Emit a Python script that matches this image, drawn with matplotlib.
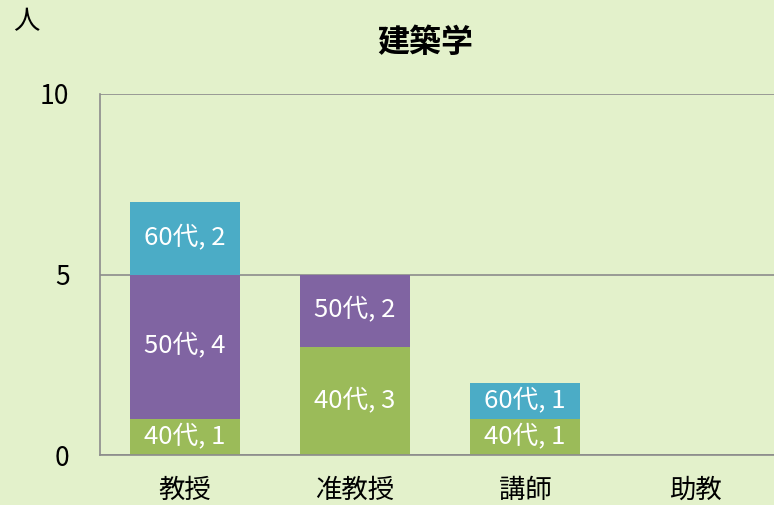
import matplotlib.pyplot as plt
import numpy as np

plt.rcParams['font.family'] = ['Noto Sans CJK JP', 'DejaVu Sans']

# data
categories = ['教授', '准教授', '講師', '助教']
series = ['40代', '50代', '60代']
values_40 = [1, 3, 1, 0]
values_50 = [4, 2, 0, 0]
values_60 = [2, 0, 1, 0]
colors = ['#9BBB59', '#8064A2', '#4BACC6']
bg = '#E3F1CB'

fig = plt.figure(figsize=(7.74, 5.05), dpi=100, facecolor=bg)
ax = fig.add_axes([100 / 774, 50 / 505, 680 / 774, 361 / 505])
ax.set_facecolor(bg)

x = np.arange(len(categories))
bottom = np.zeros(len(categories))
for name, vals, col in zip(series, [values_40, values_50, values_60], colors):
    vals = np.array(vals, dtype=float)
    bars = ax.bar(x, vals, width=0.65, bottom=bottom, color=col, zorder=2)
    for b, v, y0 in zip(bars, vals, bottom):
        if v > 0:
            ax.text(b.get_x() + b.get_width() / 2, y0 + v / 2,
                    f'{name}, {int(v)}', ha='center', va='center',
                    color='white', fontsize=18.5, zorder=3)
    bottom += vals

ax.set_xlim(-0.5, 3.5)
ax.set_ylim(0, 10)
ax.set_yticks([0, 5, 10])
ax.set_xticks(x)
ax.set_xticklabels(categories)
ax.tick_params(length=0, labelsize=19, colors='black')
ax.tick_params(axis='y', pad=22)
ax.tick_params(axis='x', pad=16)
ax.grid(axis='y', color='#8C8C8C', linewidth=1.2, zorder=1)
for s in ['top', 'right']:
    ax.spines[s].set_visible(False)
for s in ['left', 'bottom']:
    ax.spines[s].set_color('#8C8C8C')
    ax.spines[s].set_linewidth(1.2)

fig.text(425 / 774, 1 - 43 / 505, '建築学', ha='center', va='center',
         fontsize=23, fontweight='bold')
fig.text(26 / 774, 1 - 22 / 505, '人', ha='center', va='center', fontsize=19)

fig.savefig('out.png', dpi=100, facecolor=bg)
